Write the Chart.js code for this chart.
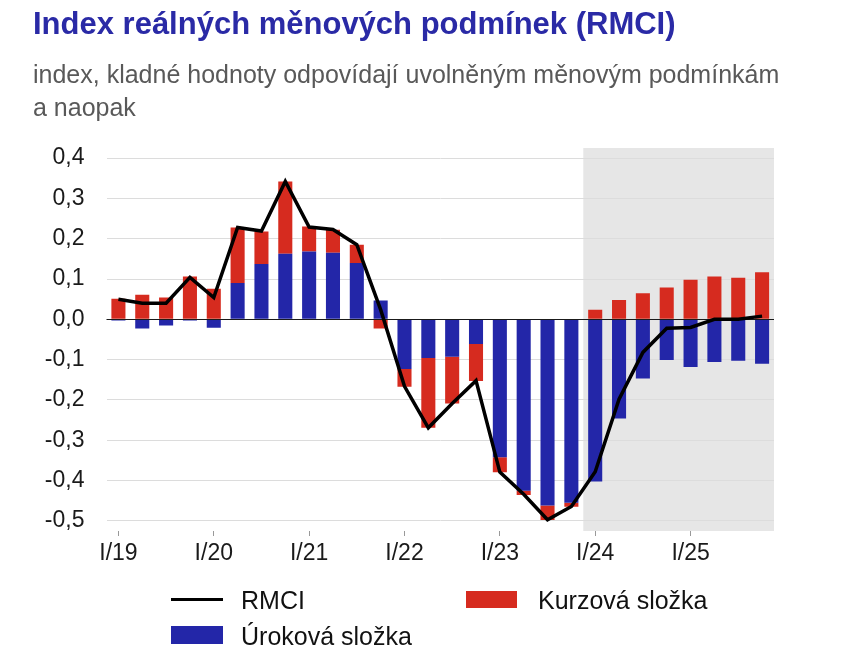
<!DOCTYPE html>
<html lang="cs">
<head>
<meta charset="utf-8">
<script src="https://cdn.jsdelivr.net/npm/chart.js@4/dist/chart.umd.min.js"></script>
<style>
  html, body { margin: 0; padding: 0; background: #fff; }
  body { width: 858px; height: 659px; position: relative; overflow: hidden;
         font-family: "Liberation Sans", Arial, sans-serif; }
  #wrap { position: absolute; left: 0; top: 0; width: 858px; height: 659px; }
  .title { position: absolute; left: 33px; top: 8px; font-size: 31px; line-height: 31px;
           font-weight: bold; color: #2a2aa6; white-space: nowrap; }
  .sub { position: absolute; left: 33px; top: 58px; font-size: 25px; line-height: 33px;
         color: #595959; white-space: nowrap; }
  .lg { position: absolute; font-size: 25px; line-height: 30px; color: #111; white-space: nowrap; }
  .sw { position: absolute; }
</style>
</head>
<body>
<div id="wrap"><canvas id="c"></canvas></div>
<div class="title">Index reálných měnových podmínek (RMCI)</div>
<div class="sub">index, kladné hodnoty odpovídají uvolněným měnovým podmínkám<br>a naopak</div>

<div class="sw" style="left:171px; top:598px; width:52px; height:3px; background:#000;"></div>
<div class="lg" style="left:241px; top:585px;">RMCI</div>
<div class="sw" style="left:466px; top:591px; width:51px; height:17px; background:#d62b1f;"></div>
<div class="lg" style="left:538px; top:585px;">Kurzová složka</div>
<div class="sw" style="left:171px; top:626px; width:52px; height:18px; background:#2326a8;"></div>
<div class="lg" style="left:241px; top:621px;">Úroková složka</div>

<script>
const quarters = [
  "I/19","II/19","III/19","IV/19",
  "I/20","II/20","III/20","IV/20",
  "I/21","II/21","III/21","IV/21",
  "I/22","II/22","III/22","IV/22",
  "I/23","II/23","III/23","IV/23",
  "I/24","II/24","III/24","IV/24",
  "I/25","II/25","III/25","IV/25"
];
const urokova = [
  -0.003, -0.023, -0.015, -0.003,
  -0.021,  0.090,  0.137,  0.163,
   0.168,  0.165,  0.140,  0.047,
  -0.123, -0.096, -0.093, -0.061,
  -0.342, -0.425, -0.462, -0.455,
  -0.402, -0.246, -0.147, -0.101,
  -0.118, -0.106, -0.103, -0.110
];
const kurzova = [
   0.051,  0.061,  0.054,  0.106,
   0.076,  0.138,  0.081,  0.179,
   0.062,  0.057,  0.045, -0.023,
  -0.044, -0.173, -0.116, -0.092,
  -0.037, -0.011, -0.036, -0.010,
   0.024,  0.048,  0.065,  0.079,
   0.098,  0.106,  0.103,  0.117
];
const rmci = [
   0.050,  0.040,  0.040,  0.104,
   0.054,  0.228,  0.219,  0.342,
   0.229,  0.223,  0.185,  0.024,
  -0.166, -0.269, -0.209, -0.152,
  -0.379, -0.434, -0.497, -0.464,
  -0.378, -0.198, -0.082, -0.022,
  -0.020,  0.000,  0.000,  0.008
];
const yTicks = [-0.5, -0.4, -0.3, -0.2, -0.1, 0.0, 0.1, 0.2, 0.3, 0.4];
const forecastStart = "I/24";

const TICK_FONT = { family: "'Liberation Sans', Arial, sans-serif", size: 23 };

const shadePlugin = {
  id: 'shade',
  beforeDraw(chart) {
    const { ctx, chartArea, scales } = chart;
    const idx = quarters.indexOf(forecastStart);
    const x0 = scales.x.getPixelForValue(idx - 0.5);
    ctx.save();
    ctx.fillStyle = '#e6e6e6';
    ctx.fillRect(x0, chartArea.top, chartArea.right - x0, chartArea.bottom - chartArea.top);
    ctx.restore();
  }
};

const zeroPlugin = {
  id: 'zero',
  beforeDatasetDraw(chart, args) {
    if (args.index !== 0) return;
    const { ctx, chartArea, scales } = chart;
    const y = Math.round(scales.y.getPixelForValue(0)) + 0.5;
    ctx.save();
    ctx.strokeStyle = '#1a1a1a';
    ctx.lineWidth = 1.2;
    ctx.beginPath();
    ctx.moveTo(chartArea.left, y);
    ctx.lineTo(chartArea.right, y);
    ctx.stroke();
    ctx.restore();
  }
};

new Chart(document.getElementById('c'), {
  type: 'bar',
  data: {
    labels: quarters,
    datasets: [
      {
        type: 'line',
        label: 'RMCI',
        data: rmci,
        borderColor: '#000',
        borderWidth: 3.5,
        pointRadius: 0,
        tension: 0,
        stack: 'rmci',
        borderJoinStyle: 'miter'
      },
      {
        label: 'Úroková složka',
        data: urokova,
        backgroundColor: '#2326a8',
        stack: 'bars',
        barPercentage: 0.59,
        categoryPercentage: 1.0
      },
      {
        label: 'Kurzová složka',
        data: kurzova,
        backgroundColor: '#d62b1f',
        stack: 'bars',
        barPercentage: 0.59,
        categoryPercentage: 1.0
      }
    ]
  },
  options: {
    responsive: true,
    maintainAspectRatio: false,
    animation: false,
    layout: { padding: { left: 0, right: 84, top: 148, bottom: 88 } },
    plugins: {
      legend: { display: false },
      tooltip: { enabled: false },
      title: { display: false }
    },
    scales: {
      x: {
        stacked: true,
        offset: true,
        border: { display: false },
        grid: {
          offset: false,
          drawOnChartArea: false,
          drawTicks: true,
          tickLength: 5,
          color: (c) => (c.index % 4 === 0 ? '#999' : 'rgba(0,0,0,0)'),
          lineWidth: 1
        },
        ticks: {
          autoSkip: false,
          maxRotation: 0,
          minRotation: 0,
          padding: 4,
          color: '#1a1a1a',
          font: TICK_FONT,
          callback: function (v, i) { return i % 4 === 0 ? quarters[i] : ''; }
        },
        afterFit(scale) { scale.height = 40; }
      },
      y: {
        stacked: true,
        min: -0.525,
        max: 0.425,
        border: { display: false },
        grid: {
          drawTicks: false,
          color: '#dcdcdc',
          lineWidth: 1
        },
        afterBuildTicks(scale) { scale.ticks = yTicks.map(v => ({ value: v })); },
        ticks: {
          padding: 22,
          color: '#1a1a1a',
          font: TICK_FONT,
          callback: (v) => Number(v).toFixed(1).replace('.', ',')
        },
        afterFit(scale) { scale.width = 106.5; }
      }
    }
  },
  plugins: [shadePlugin, zeroPlugin]
});
</script>
</body>
</html>
